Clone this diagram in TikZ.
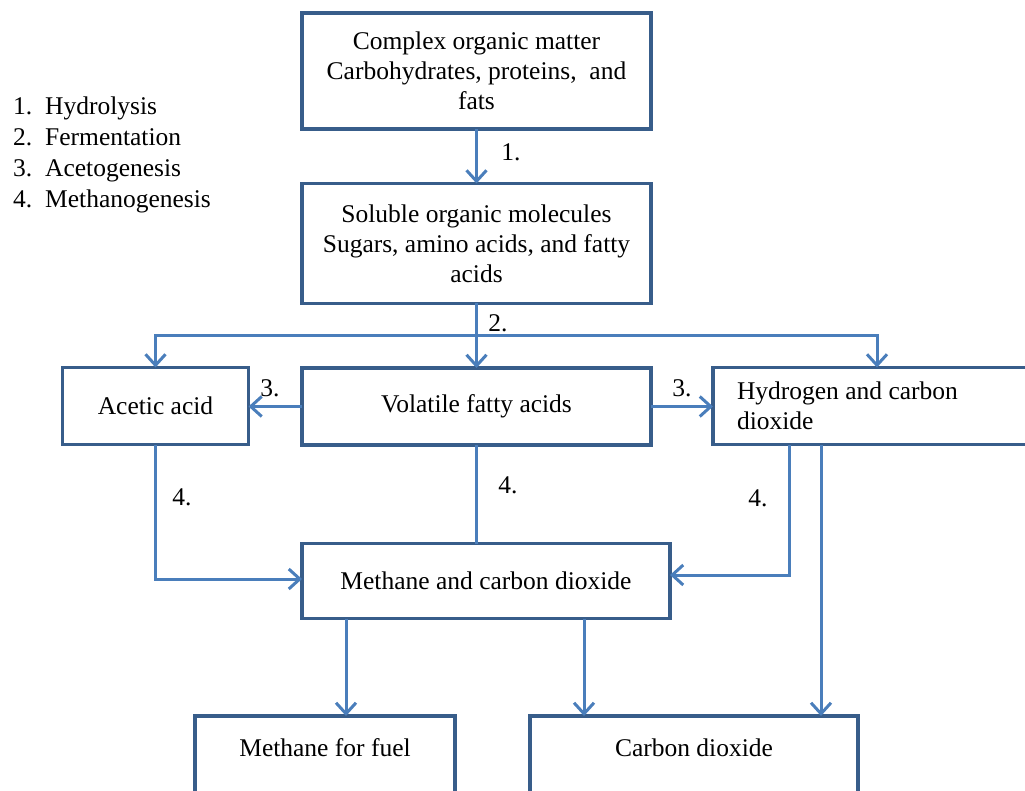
\documentclass[tikz,border=0pt]{standalone}
\usepackage{fontspec}
\setmainfont{Liberation Serif}
\usetikzlibrary{arrows.meta,calc}
\definecolor{boxblue}{HTML}{385D8A}
\definecolor{arrblue}{HTML}{4A7EBB}
\tikzset{
  box/.style={draw=boxblue, line width=3.5pt, rectangle, inner sep=0pt, outer sep=0pt, align=center, font=\fontsize{25.5}{30}\selectfont},
  conn/.style={draw=arrblue, line width=3pt},
  arr/.style={conn, -{Straight Barb[length=11pt,width=20pt,line width=3pt]}},
  lbl/.style={font=\fontsize{25.5}{30}\selectfont, inner sep=0pt},
}
\begin{document}
\begin{tikzpicture}[x=1pt,y=-1pt]
\useasboundingbox (0,0) rectangle (1025,791);
\clip (0,0) rectangle (1025,791);
% boxes
\node[box, minimum width=349pt, minimum height=116pt] (top) at (476.5,71) {Complex organic matter\\Carbohydrates, proteins,\ \ and\\fats};
\node[box, minimum width=349pt, minimum height=120pt] (sol) at (476.5,243.5) {Soluble organic molecules\\Sugars, amino acids, and fatty\\acids};
\node[box, minimum width=186pt, minimum height=77pt] (acetic) at (155.5,406) {Acetic acid};
\node[box, minimum width=349pt, minimum height=77pt] (vfa) at (476.5,406.5) {Volatile fatty acids};
\node[box, minimum width=328pt, minimum height=77pt, text width=280pt, align=flush left] (h2) at (877,406) {Hydrogen and carbon\\dioxide};
\node[box, minimum width=368pt, minimum height=75pt] (meth) at (486,581) {Methane and carbon dioxide};
\node[box, anchor=north, minimum width=260pt, text height=40pt, text depth=50pt] (fuel) at (325,716) {Methane for fuel};
\node[box, anchor=north, minimum width=328pt, text height=40pt, text depth=50pt] (co2) at (694,716) {Carbon dioxide};
% legend
\node[lbl, anchor=west, align=flush left, font=\fontsize{25.5}{31}\selectfont] (legend) at (13,155)
  {\makebox[32pt][l]{1.}Hydrolysis\\\makebox[32pt][l]{2.}Fermentation\\\makebox[32pt][l]{3.}Acetogenesis\\\makebox[32pt][l]{4.}Methanogenesis};
% connectors
\draw[arr] (top.south) -- (sol.north);
\coordinate (j) at ($(sol.south)+(0,32)$);
\draw[conn] (sol.south) -- (j);
\draw[arr] (j) -- (vfa.north);
\draw[arr] (j) -| (acetic.north);
\draw[arr] (j) -| (h2.north);
\draw[arr] (vfa.west) -- (vfa.west -| acetic.east);
\draw[arr] (vfa.east) -- (vfa.east -| h2.west);
\draw[arr] (acetic.south) |- ([yshift=2pt]meth.west);
\draw[conn] (vfa.south) -- (vfa.south |- meth.north);
\coordinate (h2a) at ($(h2.south west)+(76,0)$);
\coordinate (h2b) at ($(h2.south west)+(108,0)$);
\draw[arr] (h2a) |- ([yshift=6pt]meth.east);
\draw[arr] (h2b) -- (h2b |- co2.north);
\coordinate (m1) at ($(meth.south west)+(44,0)$);
\coordinate (m2) at ($(meth.south west)+(282,0)$);
\draw[arr] (m1) -- (m1 |- fuel.north);
\draw[arr] (m2) -- (m2 |- co2.north);
% step labels
\node[lbl] (l1) at (511,152) {1.};
\node[lbl] (l2) at (498,323) {2.};
\node[lbl] (l3a) at (270,388) {3.};
\node[lbl] (l3b) at (682,388) {3.};
\node[lbl] (l4a) at (182,497) {4.};
\node[lbl] (l4b) at (508,485) {4.};
\node[lbl] (l4c) at (758,498) {4.};
\end{tikzpicture}
\end{document}
